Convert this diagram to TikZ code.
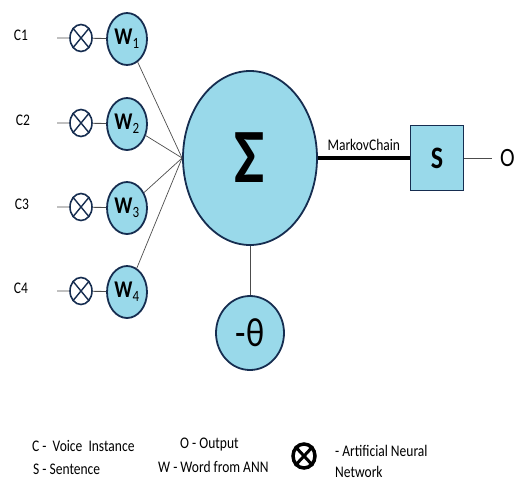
\documentclass[tikz,border=0pt]{standalone}
\usepackage{fontspec}
\setmainfont{Carlito}
\usepackage{graphicx}
\usepackage{xcolor}
\usepackage{tikz}
\usetikzlibrary{positioning, shapes.geometric}

\definecolor{cellblue}{RGB}{153,217,234}
\definecolor{rimnavy}{RGB}{22,45,80}
\newcommand{\tallt}[1]{\scalebox{1}[1.2]{#1}}

\begin{document}
\begin{tikzpicture}[x=1pt,y=-1pt]
	\tikzstyle{unit}=[ellipse,draw=rimnavy,fill=cellblue,line width=1.8pt,inner sep=0pt]
	\tikzstyle{mult}=[ellipse,draw=rimnavy,fill=white,line width=1.6pt,minimum width=22pt,minimum height=27pt,inner sep=0pt]
	\tikzstyle{wire}=[draw=black!70,line width=0.9pt]
	\tikzstyle{lbl}=[font=\fontsize{13.5}{15}\selectfont,inner sep=0pt]
	\useasboundingbox (0,0) rectangle (516,483);
	% inputs
	\foreach \i/\y/\lx in {1/38/21, 2/123/23, 3/207/22, 4/291/21} {
		\node[lbl](c\i) at (\lx,\y-3) {\tallt{C\i}};
		\coordinate (s\i) at (57,\y);
		\node[mult](x\i) at (81,\y) {};
		\draw[rimnavy,line width=1.4pt] (x\i.north west) -- (x\i.south east);
		\draw[rimnavy,line width=1.4pt] (x\i.north east) -- (x\i.south west);
		\node[unit,minimum width=40pt,minimum height=52pt](w\i) at (127,\y+1) {\fontsize{20}{22}\selectfont\bfseries\tallt{W\textsubscript{\fontsize{13}{14}\selectfont\mdseries\i}}};
		\draw[wire] (s\i) -- (x\i) -- (w\i);
	}
	% summation
	\node[unit,minimum width=134pt,minimum height=174pt](sig) at (250,158) {\fontsize{64}{66}\selectfont\bfseries\tallt{Σ}};
	\foreach \i in {1,...,4}
		\draw[wire,line width=0.7pt] (w\i) -- (sig.west);
	\node[unit,minimum width=68pt,minimum height=74pt](theta) at (250,333) {\fontsize{34}{36}\selectfont\tallt{-θ}};
	\draw[wire] (sig) -- (theta);
	% output
	\node[rectangle,draw=rimnavy,fill=cellblue,line width=1.8pt,minimum width=53pt,minimum height=65pt,inner sep=0pt](sbox) at (437,158) {\fontsize{26}{28}\selectfont\bfseries\tallt{S}};
	\draw[line width=3.5pt] (sig) -- node[lbl,above=6pt] {\tallt{MarkovChain}} (sbox);
	\node[font=\fontsize{22}{24}\selectfont,inner sep=0pt,anchor=east](out) at (515,158) {\tallt{O}};
	\coordinate (oend) at (492,158);
	\draw[wire] (sbox) -- (oend);
	% legend
	\node[lbl,anchor=west](l1) at (32,446) {\tallt{C -\ \ Voice\ \ Instance}};
	\node[lbl,anchor=west](l2) at (33,469) {\tallt{S - Sentence}};
	\node[lbl,anchor=west](l3) at (180,445) {\tallt{O - Output}};
	\node[lbl,anchor=west](l4) at (158,467) {\tallt{W - Word from ANN}};
	\node[ellipse,draw=black,line width=3.5pt,minimum width=22pt,minimum height=24pt,inner sep=0pt](lx) at (304,456) {};
	\draw[line width=3pt] (lx.north west) -- (lx.south east);
	\draw[line width=3pt] (lx.north east) -- (lx.south west);
	\node[lbl,anchor=west](l5) at (335,451) {\tallt{- Artificial Neural}};
	\node[lbl,anchor=west](l6) at (335,472) {\tallt{Network}};
\end{tikzpicture}
\end{document}
